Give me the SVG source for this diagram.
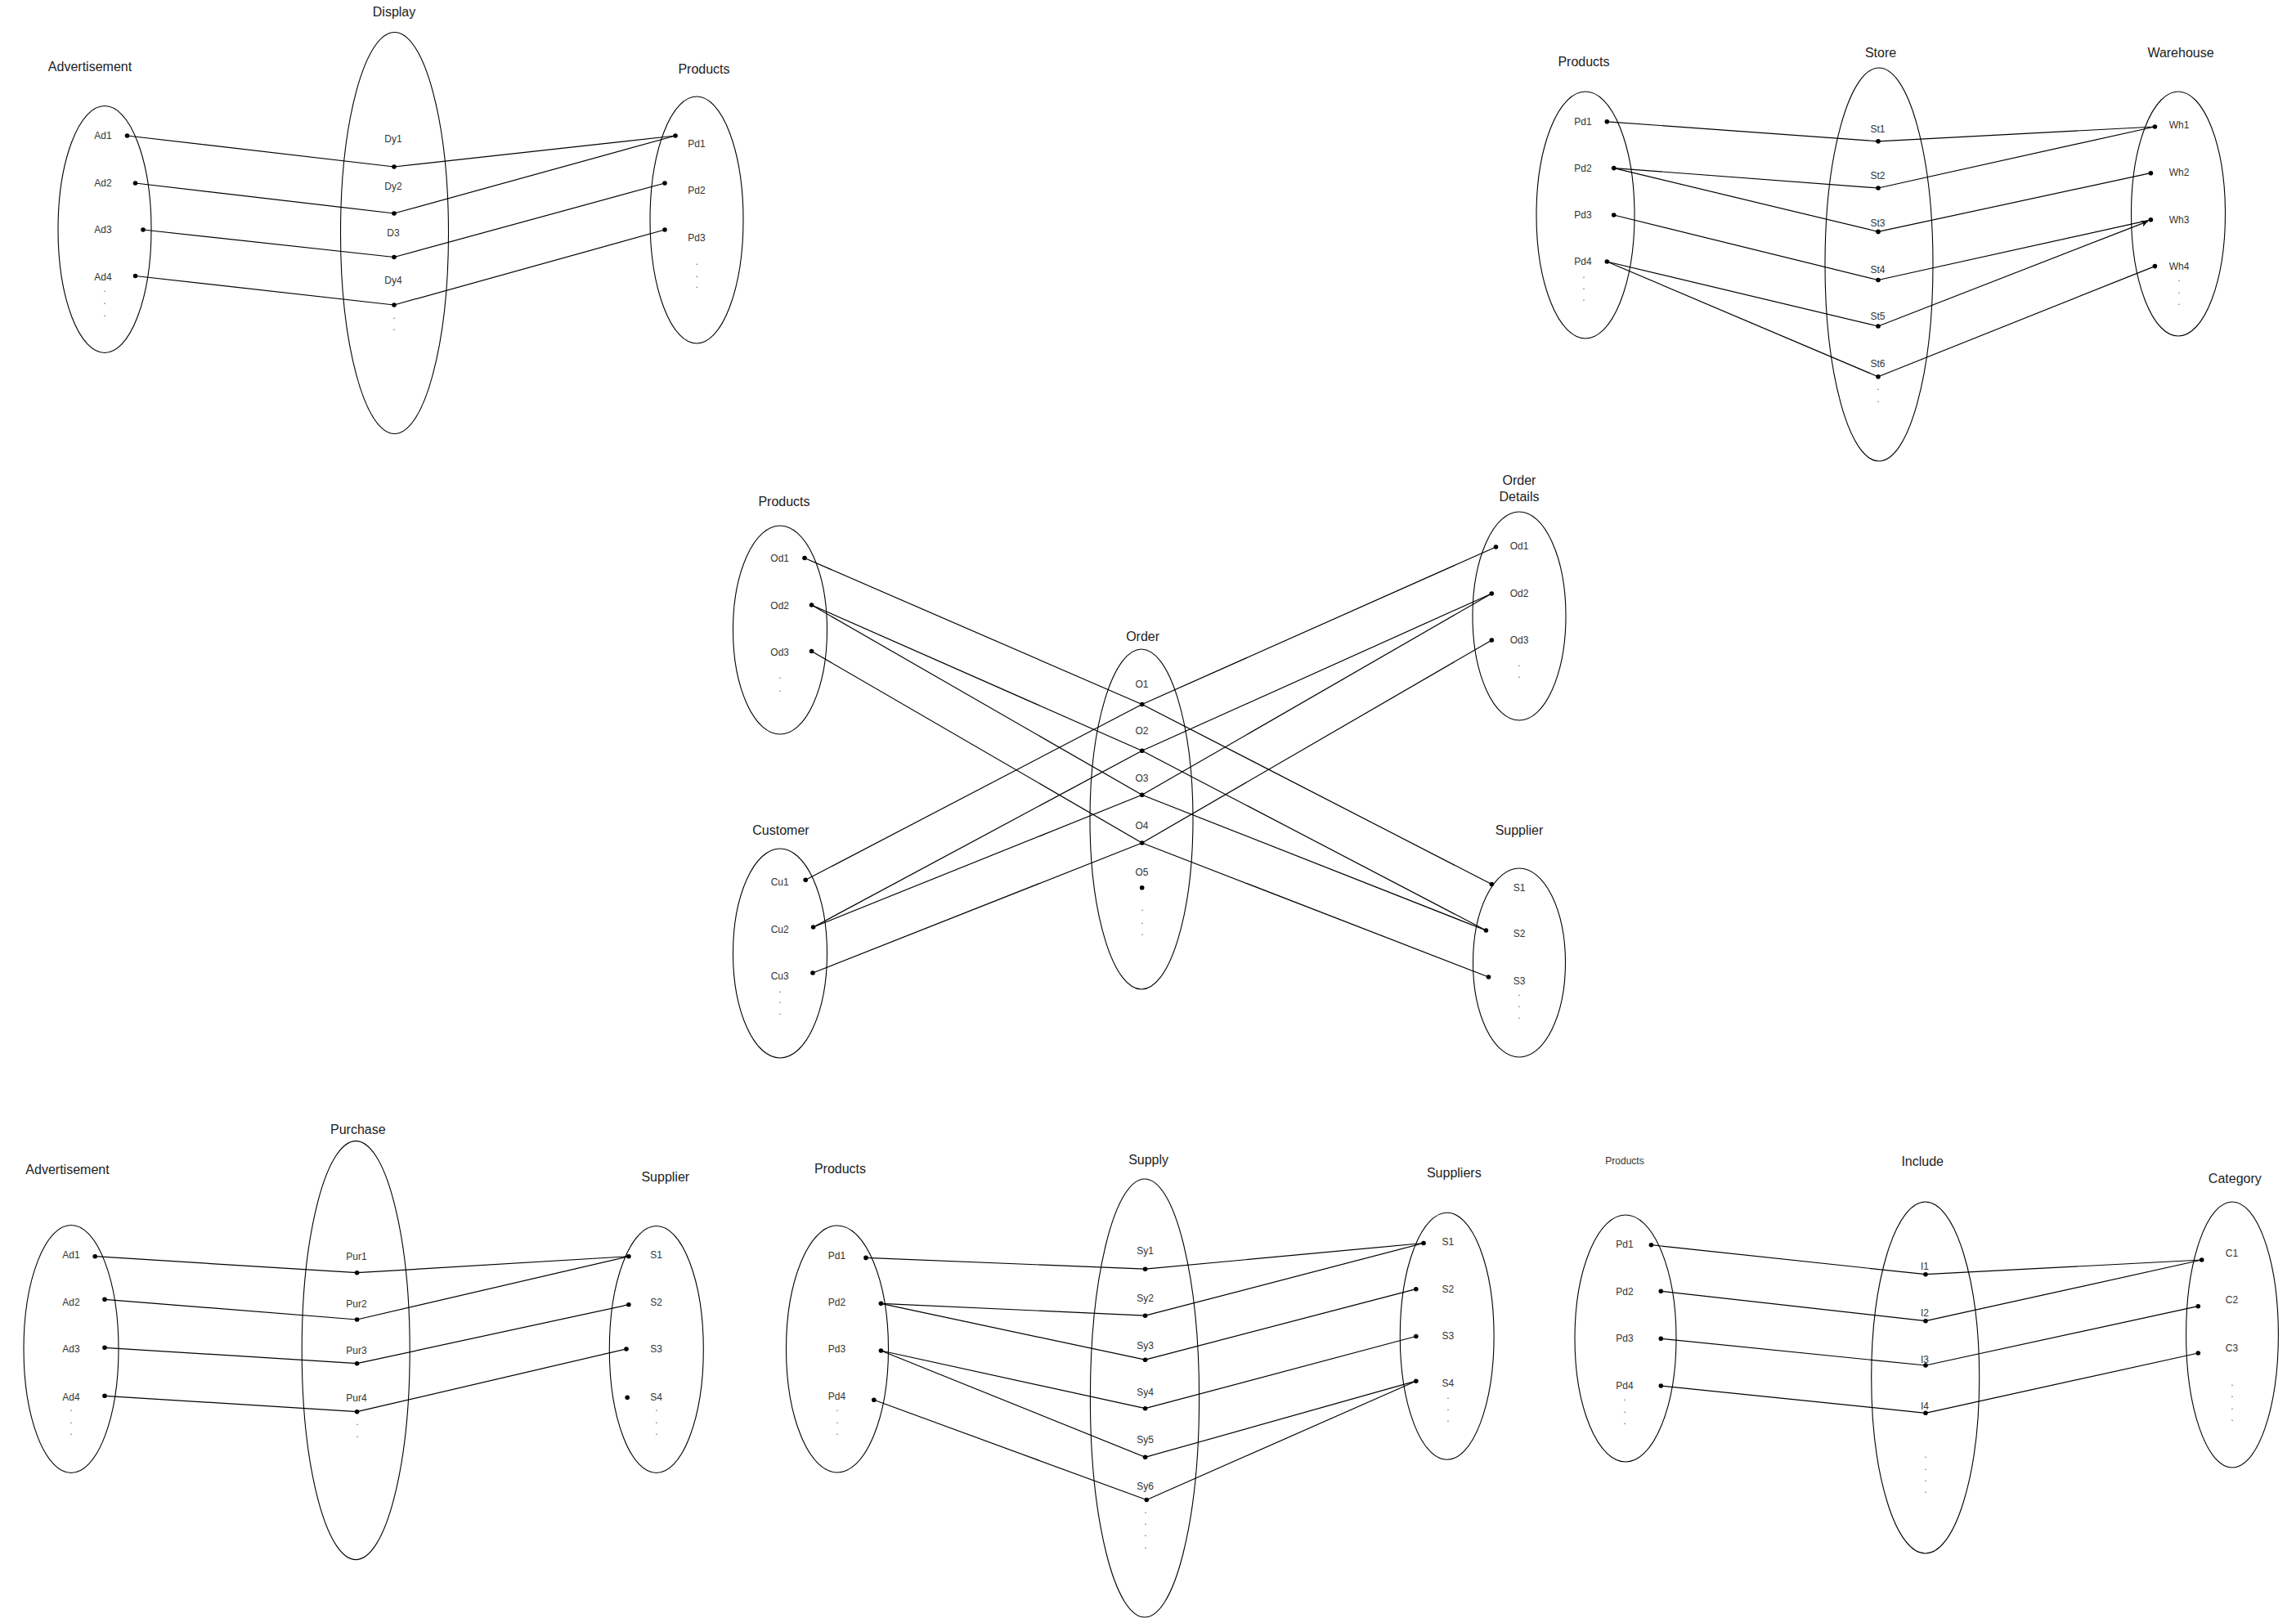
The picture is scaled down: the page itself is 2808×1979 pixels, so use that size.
<svg xmlns="http://www.w3.org/2000/svg" width="2808" height="1979" viewBox="0 0 2808 1979">
<style>
.set{fill:none;stroke:#000;stroke-width:1.1}
.lbl{font-family:"Liberation Sans",Arial,sans-serif;font-size:12px;fill:#333;text-anchor:middle}
.ttl{font-family:"Liberation Sans",Arial,sans-serif;font-size:16px;fill:#222;text-anchor:middle}
.dt{font-family:"Liberation Sans",Arial,sans-serif;font-size:12px;fill:#666;text-anchor:middle}
.pt{fill:#000}
.edge line{stroke:#000;stroke-width:1.2;fill:none}
</style>
<defs>
<marker id="arr" markerWidth="10" markerHeight="8" refX="8" refY="4" orient="auto" markerUnits="userSpaceOnUse">
<path d="M0,0 L8,4 L0,8 L2,4 z" fill="#000"/>
</marker>
</defs>
<rect width="2808" height="1979" fill="#fff"/>

<!-- ===== Diagram A: Advertisement - Display - Products ===== -->
<g id="A-advertisement">
<text class="ttl" x="110" y="87">Advertisement</text>
<ellipse class="set" cx="128" cy="280.5" rx="57" ry="151"/>
<text class="lbl" x="126" y="170">Ad1</text><circle class="pt" cx="155.5" cy="166" r="2.8"/>
<text class="lbl" x="126" y="228">Ad2</text><circle class="pt" cx="165.5" cy="224" r="2.8"/>
<text class="lbl" x="126" y="285">Ad3</text><circle class="pt" cx="175" cy="281" r="2.8"/>
<text class="lbl" x="126" y="343">Ad4</text><circle class="pt" cx="165.5" cy="337.5" r="2.8"/>
<text class="dt" x="128" y="357">.</text><text class="dt" x="128" y="372">.</text><text class="dt" x="128" y="387">.</text>
</g>
<g id="A-display">
<text class="ttl" x="482" y="20">Display</text>
<ellipse class="set" cx="482.5" cy="285" rx="66" ry="245.5"/>
<text class="lbl" x="481" y="174">Dy1</text><circle class="pt" cx="482" cy="204" r="2.8"/>
<text class="lbl" x="481" y="232">Dy2</text><circle class="pt" cx="482" cy="261" r="2.8"/>
<text class="lbl" x="481" y="289">D3</text><circle class="pt" cx="482" cy="314.5" r="2.8"/>
<text class="lbl" x="481" y="347">Dy4</text><circle class="pt" cx="482" cy="373" r="2.8"/>
<text class="dt" x="482" y="390">.</text><text class="dt" x="482" y="404">.</text>
</g>
<g id="A-products">
<text class="ttl" x="861" y="90">Products</text>
<ellipse class="set" cx="852" cy="269" rx="57" ry="151"/>
<text class="lbl" x="852" y="180">Pd1</text><circle class="pt" cx="826" cy="166" r="2.8"/>
<text class="lbl" x="852" y="237">Pd2</text><circle class="pt" cx="813" cy="224" r="2.8"/>
<text class="lbl" x="852" y="295">Pd3</text><circle class="pt" cx="813" cy="281" r="2.8"/>
<text class="dt" x="852.5" y="324">.</text><text class="dt" x="852.5" y="338.5">.</text><text class="dt" x="852.5" y="352">.</text>
</g>

<!-- ===== Diagram B: Products - Store - Warehouse ===== -->
<g id="B-products">
<text class="ttl" x="1937" y="81">Products</text>
<ellipse class="set" cx="1939" cy="263" rx="60" ry="151"/>
<text class="lbl" x="1936" y="153">Pd1</text><circle class="pt" cx="1965.3" cy="148.8" r="2.8"/>
<text class="lbl" x="1936" y="210">Pd2</text><circle class="pt" cx="1973.7" cy="205.6" r="2.8"/>
<text class="lbl" x="1936" y="267">Pd3</text><circle class="pt" cx="1973.7" cy="263" r="2.8"/>
<text class="lbl" x="1936" y="324">Pd4</text><circle class="pt" cx="1965.3" cy="320" r="2.8"/>
<text class="dt" x="1937" y="339.5">.</text><text class="dt" x="1937" y="353.7">.</text><text class="dt" x="1937" y="368">.</text>
</g>
<g id="B-store">
<text class="ttl" x="2300" y="69.5">Store</text>
<ellipse class="set" cx="2298" cy="323.5" rx="66" ry="240.5"/>
<text class="lbl" x="2296.5" y="162">St1</text><circle class="pt" cx="2297" cy="172.8" r="2.8"/>
<text class="lbl" x="2296.5" y="219">St2</text><circle class="pt" cx="2297" cy="230" r="2.8"/>
<text class="lbl" x="2296.5" y="277">St3</text><circle class="pt" cx="2297" cy="283.4" r="2.8"/>
<text class="lbl" x="2296.5" y="334">St4</text><circle class="pt" cx="2297" cy="342.5" r="2.8"/>
<text class="lbl" x="2296.5" y="391">St5</text><circle class="pt" cx="2297" cy="399" r="2.8"/>
<text class="lbl" x="2296.5" y="449">St6</text><circle class="pt" cx="2297" cy="460.8" r="2.8"/>
<text class="dt" x="2297" y="477">.</text><text class="dt" x="2297" y="492">.</text>
</g>
<g id="B-warehouse">
<text class="ttl" x="2667" y="69.5">Warehouse</text>
<ellipse class="set" cx="2664" cy="261.5" rx="57.5" ry="149.5"/>
<text class="lbl" x="2665" y="157">Wh1</text><circle class="pt" cx="2635.4" cy="155" r="2.8"/>
<text class="lbl" x="2665" y="215">Wh2</text><circle class="pt" cx="2630.4" cy="211.7" r="2.8"/>
<text class="lbl" x="2665" y="273">Wh3</text><circle class="pt" cx="2630.4" cy="268.8" r="2.8"/>
<text class="lbl" x="2665" y="330">Wh4</text><circle class="pt" cx="2635.4" cy="325.6" r="2.8"/>
<text class="dt" x="2665" y="343.5">.</text><text class="dt" x="2665" y="358.7">.</text><text class="dt" x="2665" y="373">.</text>
</g>

<!-- ===== Diagram C: Products / Customer - Order - Order Details / Supplier ===== -->
<g id="C-products">
<text class="ttl" x="959" y="619">Products</text>
<ellipse class="set" cx="954" cy="770.5" rx="57.5" ry="127.5"/>
<text class="lbl" x="953.7" y="687">Od1</text><circle class="pt" cx="984" cy="682.5" r="2.8"/>
<text class="lbl" x="953.7" y="745">Od2</text><circle class="pt" cx="992.6" cy="740" r="2.8"/>
<text class="lbl" x="953.7" y="802">Od3</text><circle class="pt" cx="992.6" cy="796.5" r="2.8"/>
<text class="dt" x="954" y="830">.</text><text class="dt" x="954" y="845.7">.</text>
</g>
<g id="C-orderdetails">
<text class="ttl" x="1858" y="593">Order</text>
<text class="ttl" x="1858" y="612.5">Details</text>
<ellipse class="set" cx="1858" cy="753.5" rx="57" ry="127.5"/>
<text class="lbl" x="1858" y="672">Od1</text><circle class="pt" cx="1829.5" cy="669" r="2.8"/>
<text class="lbl" x="1858" y="730">Od2</text><circle class="pt" cx="1824.3" cy="726" r="2.8"/>
<text class="lbl" x="1858" y="787">Od3</text><circle class="pt" cx="1824.3" cy="783" r="2.8"/>
<text class="dt" x="1858" y="814.5">.</text><text class="dt" x="1858" y="829.4">.</text>
</g>
<g id="C-order">
<text class="ttl" x="1397.6" y="783.5">Order</text>
<ellipse class="set" cx="1396" cy="1002" rx="63" ry="208"/>
<text class="lbl" x="1396.5" y="841.3">O1</text><circle class="pt" cx="1396.7" cy="861.5" r="2.8"/>
<text class="lbl" x="1396.5" y="898">O2</text><circle class="pt" cx="1396.7" cy="918.3" r="2.8"/>
<text class="lbl" x="1396.5" y="956">O3</text><circle class="pt" cx="1396.7" cy="972.3" r="2.8"/>
<text class="lbl" x="1396.5" y="1013.5">O4</text><circle class="pt" cx="1396.7" cy="1031" r="2.8"/>
<text class="lbl" x="1396.5" y="1070.5">O5</text><circle class="pt" cx="1396.7" cy="1085.8" r="2.8"/>
<text class="dt" x="1397" y="1114">.</text><text class="dt" x="1397" y="1129.7">.</text><text class="dt" x="1397" y="1143.6">.</text>
</g>
<g id="C-customer">
<text class="ttl" x="955" y="1021">Customer</text>
<ellipse class="set" cx="954" cy="1166" rx="57.5" ry="128"/>
<text class="lbl" x="953.7" y="1083">Cu1</text><circle class="pt" cx="985.2" cy="1076.3" r="2.8"/>
<text class="lbl" x="953.7" y="1141">Cu2</text><circle class="pt" cx="994.6" cy="1134" r="2.8"/>
<text class="lbl" x="953.7" y="1198">Cu3</text><circle class="pt" cx="994" cy="1190" r="2.8"/>
<text class="dt" x="954" y="1213.5">.</text><text class="dt" x="954" y="1227.4">.</text><text class="dt" x="954" y="1241.4">.</text>
</g>
<g id="C-supplier">
<text class="ttl" x="1858" y="1021">Supplier</text>
<ellipse class="set" cx="1858" cy="1177.5" rx="56.5" ry="115.5"/>
<text class="lbl" x="1858" y="1089.5">S1</text><circle class="pt" cx="1824.3" cy="1081.5" r="2.8"/>
<text class="lbl" x="1858" y="1146">S2</text><circle class="pt" cx="1817.4" cy="1138" r="2.8"/>
<text class="lbl" x="1858" y="1204">S3</text><circle class="pt" cx="1820.5" cy="1195" r="2.8"/>
<text class="dt" x="1858" y="1218">.</text><text class="dt" x="1858" y="1232">.</text><text class="dt" x="1858" y="1246">.</text>
</g>

<!-- ===== Diagram D: Advertisement - Purchase - Supplier ===== -->
<g id="D-advertisement">
<text class="ttl" x="82.5" y="1435.5">Advertisement</text>
<ellipse class="set" cx="87" cy="1650" rx="58" ry="151.5"/>
<text class="lbl" x="87" y="1539.3">Ad1</text><circle class="pt" cx="116.2" cy="1536.7" r="2.8"/>
<text class="lbl" x="87" y="1597">Ad2</text><circle class="pt" cx="128" cy="1589.3" r="2.8"/>
<text class="lbl" x="87" y="1654.3">Ad3</text><circle class="pt" cx="128" cy="1648.3" r="2.8"/>
<text class="lbl" x="87" y="1712.6">Ad4</text><circle class="pt" cx="128" cy="1707.3" r="2.8"/>
<text class="dt" x="87" y="1726">.</text><text class="dt" x="87" y="1741">.</text><text class="dt" x="87" y="1755">.</text>
</g>
<g id="D-purchase">
<text class="ttl" x="437.8" y="1387.2">Purchase</text>
<ellipse class="set" cx="435.2" cy="1651.6" rx="66" ry="256"/>
<text class="lbl" x="436" y="1541">Pur1</text><circle class="pt" cx="436.6" cy="1556.7" r="2.8"/>
<text class="lbl" x="436" y="1599.3">Pur2</text><circle class="pt" cx="436.6" cy="1614" r="2.8"/>
<text class="lbl" x="436" y="1656">Pur3</text><circle class="pt" cx="436.6" cy="1667.7" r="2.8"/>
<text class="lbl" x="436" y="1714.3">Pur4</text><circle class="pt" cx="436.6" cy="1726.7" r="2.8"/>
<text class="dt" x="437" y="1742.7">.</text><text class="dt" x="437" y="1757.7">.</text>
</g>
<g id="D-supplier">
<text class="ttl" x="813.8" y="1444.5">Supplier</text>
<ellipse class="set" cx="802.8" cy="1650.5" rx="57.5" ry="151"/>
<text class="lbl" x="802.5" y="1539.3">S1</text><circle class="pt" cx="768.9" cy="1536.7" r="2.8"/>
<text class="lbl" x="802.5" y="1597">S2</text><circle class="pt" cx="768.9" cy="1595.7" r="2.8"/>
<text class="lbl" x="802.5" y="1654.3">S3</text><circle class="pt" cx="766" cy="1650" r="2.8"/>
<text class="lbl" x="802.5" y="1712.6">S4</text><circle class="pt" cx="767.2" cy="1709.3" r="2.8"/>
<text class="dt" x="803" y="1726">.</text><text class="dt" x="803" y="1741">.</text><text class="dt" x="803" y="1755">.</text>
</g>

<!-- ===== Diagram E: Products - Supply - Suppliers ===== -->
<g id="E-products">
<text class="ttl" x="1027.5" y="1435">Products</text>
<ellipse class="set" cx="1024" cy="1650" rx="62.5" ry="151"/>
<text class="lbl" x="1023.5" y="1539.7">Pd1</text><circle class="pt" cx="1059" cy="1538.4" r="2.8"/>
<text class="lbl" x="1023.5" y="1596.7">Pd2</text><circle class="pt" cx="1077.4" cy="1594.3" r="2.8"/>
<text class="lbl" x="1023.5" y="1654.3">Pd3</text><circle class="pt" cx="1077.4" cy="1652" r="2.8"/>
<text class="lbl" x="1023.5" y="1712">Pd4</text><circle class="pt" cx="1068.8" cy="1712.3" r="2.8"/>
<text class="dt" x="1024" y="1725.6">.</text><text class="dt" x="1024" y="1740.5">.</text><text class="dt" x="1024" y="1755.4">.</text>
</g>
<g id="E-supply">
<text class="ttl" x="1404.6" y="1423.5">Supply</text>
<ellipse class="set" cx="1400" cy="1710" rx="66.6" ry="268"/>
<text class="lbl" x="1400.6" y="1534">Sy1</text><circle class="pt" cx="1400.6" cy="1552.2" r="2.8"/>
<text class="lbl" x="1400.6" y="1591.8">Sy2</text><circle class="pt" cx="1400.6" cy="1609.2" r="2.8"/>
<text class="lbl" x="1400.6" y="1650">Sy3</text><circle class="pt" cx="1400.6" cy="1663.2" r="2.8"/>
<text class="lbl" x="1400.6" y="1707.3">Sy4</text><circle class="pt" cx="1400.6" cy="1722.7" r="2.8"/>
<text class="lbl" x="1400.6" y="1765">Sy5</text><circle class="pt" cx="1400.6" cy="1782.3" r="2.8"/>
<text class="lbl" x="1400.6" y="1822">Sy6</text><circle class="pt" cx="1402.3" cy="1834.5" r="2.8"/>
<text class="dt" x="1401" y="1851">.</text><text class="dt" x="1401" y="1865.3">.</text><text class="dt" x="1401" y="1879.4">.</text><text class="dt" x="1401" y="1894.3">.</text>
</g>
<g id="E-suppliers">
<text class="ttl" x="1778.3" y="1439.5">Suppliers</text>
<ellipse class="set" cx="1769.7" cy="1634.3" rx="57.4" ry="151"/>
<text class="lbl" x="1770.8" y="1523.3">S1</text><circle class="pt" cx="1741" cy="1520.5" r="2.8"/>
<text class="lbl" x="1770.8" y="1581">S2</text><circle class="pt" cx="1731.8" cy="1576.7" r="2.8"/>
<text class="lbl" x="1770.8" y="1637.7">S3</text><circle class="pt" cx="1731.8" cy="1634.5" r="2.8"/>
<text class="lbl" x="1770.8" y="1696">S4</text><circle class="pt" cx="1731.8" cy="1689.2" r="2.8"/>
<text class="dt" x="1771" y="1710.7">.</text><text class="dt" x="1771" y="1724.9">.</text><text class="dt" x="1771" y="1739.4">.</text>
</g>

<!-- ===== Diagram F: Products - Include - Category ===== -->
<g id="F-products">
<text class="lbl" x="1987" y="1424.3">Products</text>
<ellipse class="set" cx="1988" cy="1637" rx="62" ry="151"/>
<text class="lbl" x="1987" y="1526.3">Pd1</text><circle class="pt" cx="2019.4" cy="1522.7" r="2.8"/>
<text class="lbl" x="1987" y="1583.6">Pd2</text><circle class="pt" cx="2031.3" cy="1579.3" r="2.8"/>
<text class="lbl" x="1987" y="1641">Pd3</text><circle class="pt" cx="2031.3" cy="1637.3" r="2.8"/>
<text class="lbl" x="1987" y="1699.3">Pd4</text><circle class="pt" cx="2031.3" cy="1695" r="2.8"/>
<text class="dt" x="1987" y="1712.7">.</text><text class="dt" x="1987" y="1727.7">.</text><text class="dt" x="1987" y="1741.7">.</text>
</g>
<g id="F-include">
<text class="ttl" x="2351.2" y="1426.2">Include</text>
<ellipse class="set" cx="2354.7" cy="1685" rx="66" ry="215"/>
<text class="lbl" x="2354" y="1553.3">I1</text><circle class="pt" cx="2355" cy="1558.7" r="2.8"/>
<text class="lbl" x="2354" y="1610">I2</text><circle class="pt" cx="2355" cy="1615.7" r="2.8"/>
<text class="lbl" x="2354" y="1667">I3</text><circle class="pt" cx="2355" cy="1670" r="2.8"/>
<text class="lbl" x="2354" y="1724.3">I4</text><circle class="pt" cx="2355" cy="1728.3" r="2.8"/>
<text class="dt" x="2355" y="1782.7">.</text><text class="dt" x="2355" y="1797.7">.</text><text class="dt" x="2355" y="1812">.</text><text class="dt" x="2355" y="1826">.</text>
</g>
<g id="F-category">
<text class="ttl" x="2733.3" y="1446.5">Category</text>
<ellipse class="set" cx="2730" cy="1632.5" rx="56.4" ry="162.5"/>
<text class="lbl" x="2729.5" y="1537">C1</text><circle class="pt" cx="2692.7" cy="1541" r="2.8"/>
<text class="lbl" x="2729.5" y="1594.3">C2</text><circle class="pt" cx="2688.3" cy="1597.7" r="2.8"/>
<text class="lbl" x="2729.5" y="1652.6">C3</text><circle class="pt" cx="2688.3" cy="1655" r="2.8"/>
<text class="dt" x="2730" y="1695.3">.</text><text class="dt" x="2730" y="1709.3">.</text><text class="dt" x="2730" y="1724.3">.</text><text class="dt" x="2730" y="1737.7">.</text>
</g>

<!-- ===== Connectors ===== -->
<g id="connectors" class="edge">
<!-- A -->
<line x1="155.5" y1="166" x2="482" y2="204"/>
<line x1="165.5" y1="224" x2="482" y2="261"/>
<line x1="175" y1="281" x2="482" y2="314.5"/>
<line x1="165.5" y1="337.5" x2="482" y2="373"/>
<line x1="482" y1="204" x2="826" y2="166"/>
<line x1="482" y1="261" x2="826" y2="166"/>
<line x1="482" y1="314.5" x2="813" y2="224"/>
<line x1="482" y1="373" x2="813" y2="281"/>
<!-- B -->
<line x1="1965.3" y1="148.8" x2="2297" y2="172.8"/>
<line x1="1973.7" y1="205.6" x2="2297" y2="230"/>
<line x1="1973.7" y1="205.6" x2="2297" y2="283.4"/>
<line x1="1973.7" y1="263" x2="2297" y2="342.5"/>
<line x1="1965.3" y1="320" x2="2297" y2="399"/>
<line x1="1965.3" y1="320" x2="2297" y2="460.8"/>
<line x1="2297" y1="172.8" x2="2635.4" y2="155"/>
<line x1="2297" y1="230" x2="2635.4" y2="155"/>
<line x1="2297" y1="283.4" x2="2630.4" y2="211.7"/>
<line x1="2297" y1="342.5" x2="2630.4" y2="268.8"/>
<line x1="2297" y1="399" x2="2627" y2="270.6" marker-end="url(#arr)"/>
<line x1="2297" y1="460.8" x2="2635.4" y2="325.6"/>
<!-- C -->
<line x1="984" y1="682.5" x2="1396.7" y2="861.5"/>
<line x1="985.2" y1="1076.3" x2="1396.7" y2="861.5"/>
<line x1="1396.7" y1="861.5" x2="1829.5" y2="669"/>
<line x1="1396.7" y1="861.5" x2="1824.3" y2="1081.5"/>
<line x1="992.6" y1="740" x2="1396.7" y2="918.3"/>
<line x1="994.6" y1="1134" x2="1396.7" y2="918.3"/>
<line x1="1396.7" y1="918.3" x2="1824.3" y2="726"/>
<line x1="1396.7" y1="918.3" x2="1817.4" y2="1138"/>
<line x1="992.6" y1="740" x2="1396.7" y2="972.3"/>
<line x1="994.6" y1="1134" x2="1396.7" y2="972.3"/>
<line x1="1396.7" y1="972.3" x2="1824.3" y2="726"/>
<line x1="1396.7" y1="972.3" x2="1817.4" y2="1138"/>
<line x1="992.6" y1="796.5" x2="1396.7" y2="1031"/>
<line x1="994" y1="1190" x2="1396.7" y2="1031"/>
<line x1="1396.7" y1="1031" x2="1824.3" y2="783"/>
<line x1="1396.7" y1="1031" x2="1820.5" y2="1195"/>
<!-- D -->
<line x1="116.2" y1="1536.7" x2="436.6" y2="1556.7"/>
<line x1="128" y1="1589.3" x2="436.6" y2="1614"/>
<line x1="128" y1="1648.3" x2="436.6" y2="1667.7"/>
<line x1="128" y1="1707.3" x2="436.6" y2="1726.7"/>
<line x1="436.6" y1="1556.7" x2="768.9" y2="1536.7"/>
<line x1="436.6" y1="1614" x2="768.9" y2="1536.7"/>
<line x1="436.6" y1="1667.7" x2="768.9" y2="1595.7"/>
<line x1="436.6" y1="1726.7" x2="766" y2="1650"/>
<!-- E -->
<line x1="1059" y1="1538.4" x2="1400.6" y2="1552.2"/>
<line x1="1077.4" y1="1594.3" x2="1400.6" y2="1609.2"/>
<line x1="1077.4" y1="1594.3" x2="1400.6" y2="1663.2"/>
<line x1="1077.4" y1="1652" x2="1400.6" y2="1722.7"/>
<line x1="1077.4" y1="1652" x2="1400.6" y2="1782.3"/>
<line x1="1068.8" y1="1712.3" x2="1402.3" y2="1834.5"/>
<line x1="1400.6" y1="1552.2" x2="1741" y2="1520.5"/>
<line x1="1400.6" y1="1609.2" x2="1741" y2="1520.5"/>
<line x1="1400.6" y1="1663.2" x2="1731.8" y2="1576.7"/>
<line x1="1400.6" y1="1722.7" x2="1731.8" y2="1634.5"/>
<line x1="1400.6" y1="1782.3" x2="1731.8" y2="1689.2"/>
<line x1="1402.3" y1="1834.5" x2="1731.8" y2="1689.2"/>
<!-- F -->
<line x1="2019.4" y1="1522.7" x2="2355" y2="1558.7"/>
<line x1="2031.3" y1="1579.3" x2="2355" y2="1615.7"/>
<line x1="2031.3" y1="1637.3" x2="2355" y2="1670"/>
<line x1="2031.3" y1="1695" x2="2355" y2="1728.3"/>
<line x1="2355" y1="1558.7" x2="2692.7" y2="1541"/>
<line x1="2355" y1="1615.7" x2="2692.7" y2="1541"/>
<line x1="2355" y1="1670" x2="2688.3" y2="1597.7"/>
<line x1="2355" y1="1728.3" x2="2688.3" y2="1655"/>
</g>
</svg>
